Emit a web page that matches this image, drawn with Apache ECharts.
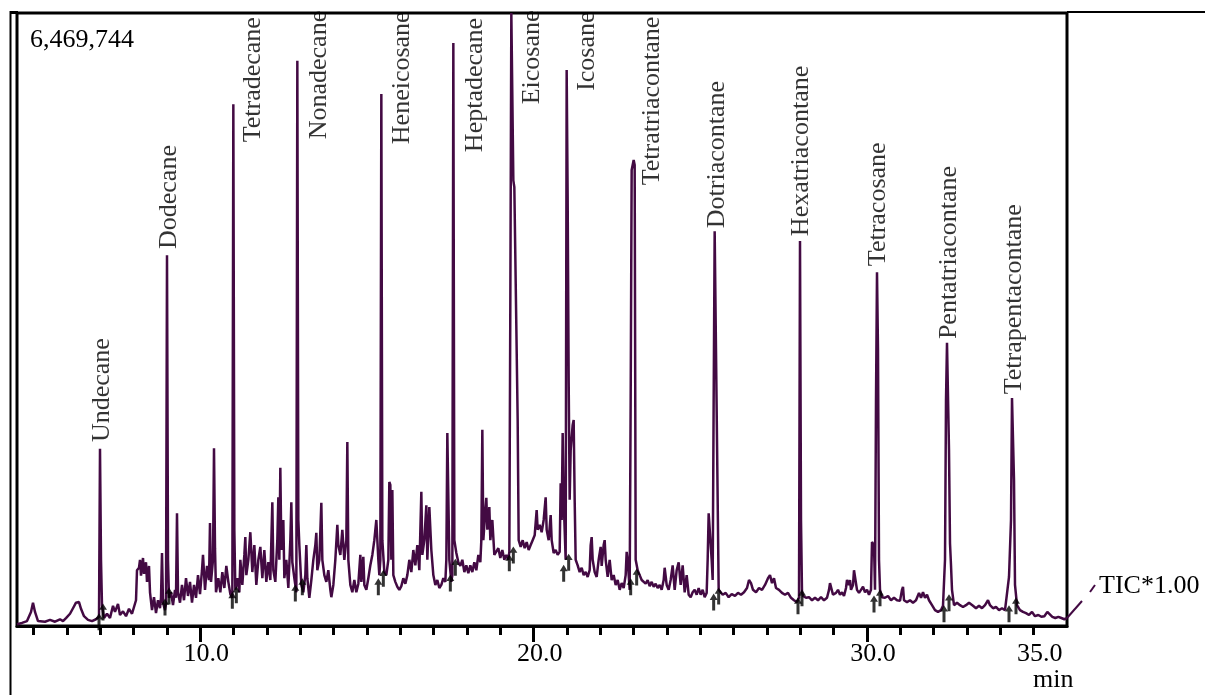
<!DOCTYPE html>
<html>
<head>
<meta charset="utf-8">
<title>TIC chromatogram</title>
<script src="https://cdn.jsdelivr.net/npm/echarts@6/dist/echarts.min.js"></script>
<style>
	html, body { margin: 0; padding: 0; background: #fff; }
	#chart { width: 1205px; height: 695px; }
</style>
</head>
<body>
<div id="chart"></div>
<script>
// Retention time (min), intensity (% of full scale, 6,469,744 counts)
let ticTrace = [
	[4.50,0.3],[4.65,0.5],[4.80,0.8],[4.92,2.3],[4.98,3.8],[5.04,2.3],[5.13,0.8],[5.34,0.7],[5.49,1.0],[5.64,0.7],
	[5.79,1.1],[5.88,0.8],[5.97,1.3],[6.09,2.0],[6.18,2.9],[6.27,3.8],[6.36,3.9],[6.42,2.8],[6.51,1.6],[6.63,1.0],
	[6.75,0.8],[6.87,1.1],[6.96,1.5],[6.99,28.9],[7.02,10.8],[7.05,3.3],[7.11,1.3],
	[7.20,2.0],[7.29,1.3],[7.38,3.3],[7.44,2.3],[7.53,3.6],[7.59,1.8],[7.68,2.4],[7.77,1.6],[7.86,2.8],[7.95,2.0],
	[8.01,3.1],[8.07,4.2],[8.10,9.1],[8.16,9.5],[8.19,10.8],[8.22,8.2],[8.28,11.1],[8.31,8.5],[8.37,10.4],[8.40,7.2],
	[8.46,9.8],[8.49,5.5],[8.55,2.6],[8.61,4.7],[8.67,2.1],[8.73,4.2],[8.79,2.9],[8.82,4.6],[8.85,11.9],[8.88,3.8],
	[8.94,2.6],[8.97,3.6],[9.00,60.5],[9.03,10.8],[9.06,4.6],
	[9.12,5.5],[9.18,3.4],[9.24,5.9],[9.27,4.6],[9.30,18.4],[9.33,5.5],[9.39,3.8],[9.45,6.7],[9.51,4.2],[9.57,7.8],
	[9.63,4.9],[9.69,7.2],[9.75,3.8],[9.81,6.7],[9.87,4.6],[9.93,8.3],[9.99,5.2],[10.05,9.1],[10.08,11.6],[10.14,5.9],
	[10.20,9.8],[10.26,7.5],[10.29,16.8],[10.32,7.2],[10.38,10.8],[10.41,29.0],[10.44,12.7],[10.47,5.5],[10.54,7.8],
	[10.60,5.5],[10.66,8.8],[10.72,6.2],[10.78,9.8],[10.84,7.2],[10.90,5.2],[10.96,4.6],[10.99,85.1],[11.02,15.7],[11.05,5.9],
	[11.11,7.8],[11.17,5.5],[11.20,10.8],[11.26,6.7],[11.32,11.6],[11.35,14.5],[11.38,8.3],[11.44,10.8],[11.50,15.3],
	[11.56,8.8],[11.62,13.2],[11.68,6.7],[11.74,10.8],[11.80,12.9],[11.86,7.8],[11.92,12.4],[11.98,7.2],[12.04,10.4],
	[12.10,7.5],[12.16,20.2],[12.19,9.1],[12.25,7.2],[12.31,14.0],[12.34,21.0],[12.37,10.8],[12.40,25.8],[12.43,12.4],
	[12.49,17.3],[12.52,7.8],[12.58,10.8],[12.64,6.2],[12.70,14.0],[12.73,20.2],[12.76,10.4],[12.82,7.8],[12.88,5.5],
	[12.91,92.2],[12.94,17.3],[12.97,13.2],[13.03,6.7],[13.09,5.5],
	[13.15,8.3],[13.18,13.2],[13.21,7.8],[13.27,4.6],[13.33,7.5],[13.39,10.8],[13.45,13.2],[13.48,15.2],[13.51,9.1],
	[13.57,10.8],[13.63,20.1],[13.66,10.8],[13.72,8.3],[13.78,7.2],[13.84,9.1],[13.90,5.9],[13.93,4.7],[13.99,6.7],
	[14.05,10.8],[14.11,16.5],[14.14,13.2],[14.20,11.6],[14.26,15.7],[14.32,10.8],[14.38,14.0],[14.41,30.0],[14.44,10.8],
	[14.50,6.7],[14.56,5.5],[14.62,7.5],[14.68,5.5],[14.74,6.9],[14.80,11.6],[14.83,7.2],[14.89,11.3],[14.92,6.7],
	[14.98,5.9],[15.04,7.8],[15.10,9.9],[15.16,11.6],[15.22,14.0],[15.28,17.3],[15.34,10.8],[15.37,8.3],[15.40,10.8],
	[15.43,86.8],[15.46,14.0],[15.52,8.8],
	[15.58,8.3],[15.64,10.8],[15.67,23.5],[15.70,23.0],[15.73,10.8],[15.76,22.2],[15.79,8.3],[15.85,7.2],[15.91,6.4],
	[15.97,5.9],[16.03,6.5],[16.09,7.8],[16.15,6.9],[16.21,8.3],[16.27,10.8],[16.33,8.8],[16.39,12.4],[16.45,9.9],
	[16.51,13.2],[16.57,9.1],[16.63,21.9],[16.66,11.6],[16.72,14.0],[16.78,19.7],[16.81,10.8],[16.87,19.4],[16.93,12.4],
	[16.99,8.3],[17.05,6.7],[17.11,7.5],[17.17,6.2],[17.23,6.7],[17.29,7.8],[17.35,7.2],[17.38,10.8],[17.41,31.5],
	[17.47,10.8],[17.53,7.2],[17.56,8.3],[17.59,95.1],[17.62,14.0],[17.68,11.9],
	[17.74,10.4],[17.80,9.8],[17.86,10.8],[17.92,8.8],[17.98,9.9],[18.04,8.6],[18.10,9.9],[18.16,8.8],[18.22,10.4],
	[18.28,9.1],[18.34,11.6],[18.40,10.4],[18.43,14.0],[18.46,32.0],[18.49,14.0],[18.55,18.9],[18.58,20.9],[18.61,15.7],
	[18.67,19.4],[18.70,14.0],[18.76,17.3],[18.82,11.6],[18.88,11.3],[18.94,12.7],[19.00,11.1],[19.06,12.4],[19.12,10.8],
	[19.18,11.6],[19.24,10.8],[19.27,12.1],[19.30,53.2],[19.33,100],[19.36,100],[19.39,72.7],[19.42,71.6],[19.48,71.6],
	[19.52,33.6],[19.55,14.0],
	[19.61,12.9],[19.67,14.0],[19.73,12.7],[19.79,13.7],[19.85,12.4],[19.91,13.2],[19.97,14.0],[20.03,14.8],[20.09,18.9],
	[20.12,15.7],[20.18,16.5],[20.24,15.3],[20.30,17.3],[20.36,21.0],[20.39,15.7],[20.45,14.0],[20.51,18.1],[20.54,14.0],
	[20.60,11.9],[20.66,12.4],[20.72,11.6],[20.78,12.1],[20.81,23.3],[20.84,17.3],[20.87,31.5],[20.90,20.6],[20.96,10.8],
	[20.99,90.7],[21.02,69.5],[21.05,40.1],[21.08,20.6],[21.11,28.7],[21.17,32.8],[21.20,33.6],[21.23,20.6],[21.26,10.8],
	[21.32,9.9],[21.38,8.8],[21.44,9.5],[21.50,8.3],[21.56,8.8],[21.62,8.0],[21.68,9.1],[21.71,13.2],[21.74,14.5],
	[21.77,10.8],[21.83,8.8],[21.89,8.0],[21.95,10.8],[22.01,12.9],[22.04,9.8],[22.10,13.2],[22.13,14.0],[22.16,10.8],
	[22.22,8.0],[22.28,10.8],[22.34,7.5],[22.40,8.3],[22.46,6.7],[22.52,7.5],[22.58,5.9],[22.64,7.0],[22.70,6.2],
	[22.76,8.3],[22.79,12.1],[22.82,10.8],[22.88,5.9],[22.91,36.9],[22.94,74.4],[23.00,76.0],[23.03,75.2],[23.06,10.8],
	[23.12,9.1],[23.18,8.3],
	[23.24,7.5],[23.30,7.8],[23.36,6.9],[23.42,7.5],[23.48,6.5],[23.54,7.2],[23.60,6.4],[23.66,6.9],[23.72,6.2],
	[23.78,6.7],[23.84,5.9],[23.90,7.5],[23.93,9.5],[23.99,6.7],[24.05,5.9],[24.11,7.5],[24.17,9.9],[24.23,5.9],
	[24.29,9.1],[24.35,10.4],[24.41,6.7],[24.47,9.9],[24.53,5.5],[24.59,8.3],[24.65,5.1],[24.71,4.7],[24.77,5.5],
	[24.83,5.9],[24.89,5.1],[24.95,6.2],[25.01,5.1],[25.07,5.9],[25.13,4.7],[25.19,5.4],[25.22,10.8],[25.25,18.4],
	[25.31,18.1],[25.34,10.8],[25.37,7.5],[25.40,36.9],[25.43,64.4],[25.49,64.4],[25.52,20.6],[25.55,5.9],
	[25.61,5.5],[25.67,5.1],[25.76,5.4],[25.85,4.7],[25.94,5.2],[26.04,4.9],[26.13,5.4],[26.22,5.1],[26.31,5.5],
	[26.40,6.2],[26.46,7.5],[26.52,7.0],[26.58,5.9],[26.67,5.5],[26.76,6.2],[26.85,5.9],[26.94,6.7],[27.03,7.8],
	[27.09,8.3],[27.15,7.0],[27.21,7.8],[27.27,6.2],[27.36,5.9],[27.45,5.4],[27.54,5.1],[27.63,5.4],[27.72,4.6],
	[27.81,4.2],[27.90,3.9],[27.96,4.6],[27.99,62.8],[28.02,17.3],[28.05,5.5],
	[28.08,4.9],[28.17,4.6],[28.26,4.7],[28.35,4.2],[28.44,4.6],[28.53,4.2],[28.62,4.7],[28.71,4.2],[28.80,4.6],
	[28.86,5.9],[28.89,7.0],[28.95,6.7],[28.98,5.1],[29.07,5.4],[29.13,5.9],[29.19,5.1],[29.25,5.5],[29.31,4.9],
	[29.37,6.2],[29.40,7.5],[29.46,6.7],[29.49,7.5],[29.52,5.9],[29.58,6.7],[29.61,9.1],[29.67,8.8],[29.70,5.9],
	[29.76,5.4],[29.82,5.9],[29.88,6.4],[29.94,5.5],[30.00,5.9],[30.06,5.1],[30.12,5.9],[30.15,13.7],[30.21,13.2],
	[30.24,5.9],[30.27,36.9],[30.30,57.7],[30.33,45.0],[30.36,10.8],[30.39,5.9],
	[30.45,4.7],[30.54,4.6],[30.63,4.9],[30.72,4.2],[30.81,4.6],[30.90,4.2],[30.99,4.1],[31.05,5.9],[31.08,6.4],
	[31.11,4.2],[31.20,3.9],[31.29,4.2],[31.38,3.8],[31.47,4.2],[31.56,5.4],[31.62,4.6],[31.68,5.5],[31.74,4.6],
	[31.80,5.1],[31.86,4.2],[31.95,3.4],[32.04,2.6],[32.13,2.3],[32.22,2.6],[32.28,3.3],[32.34,10.8],[32.37,36.9],
	[32.40,46.2],[32.43,46.2],[32.46,28.7],[32.49,13.5],[32.52,9.9],[32.55,5.9],
	[32.61,3.4],[32.70,3.8],[32.79,3.4],[32.88,3.1],[32.97,3.4],[33.06,3.8],[33.12,3.9],[33.18,3.3],[33.27,2.9],
	[33.36,3.3],[33.45,2.9],[33.54,3.4],[33.63,4.2],[33.69,3.4],[33.78,2.9],[33.87,3.1],[33.96,2.6],[34.05,2.9],
	[34.14,2.6],[34.20,2.9],[34.26,8.0],[34.29,8.0],[34.32,17.3],[34.35,37.2],[34.38,37.2],[34.41,23.8],[34.44,6.7],
	[34.50,3.4],[34.59,2.6],[34.68,2.3],[34.77,2.1],[34.86,1.8],[34.95,2.3],[35.04,1.6],[35.14,1.8],[35.23,1.5],
	[35.32,1.6],[35.41,2.3],[35.47,2.0],[35.56,1.5],[35.65,1.3],[35.74,1.5],[35.83,1.3],[35.92,1.1],[36.00,1.3]
];

// Peak names and where their labels start (time, intensity %)
let peakNames = ['Undecane', 'Dodecane', 'Tetradecane', 'Nonadecane', 'Heneicosane', 'Heptadecane', 'Eicosane',
	'Icosane', 'Tetratriacontane', 'Dotriacontane', 'Hexatriacontane', 'Tetracosane', 'Pentatriacontane', 'Tetrapentacontane'];
let labelTimes = [7.05, 9.06, 11.59, 13.57, 16.06, 18.26, 19.97, 21.62, 23.57, 25.52, 28.02, 30.33, 32.46, 34.41];
let labelLevels = [30.0, 61.5, 78.9, 79.4, 78.6, 77.3, 85.1, 87.3, 71.9, 64.9, 63.6, 58.7, 46.8, 37.8];

// Integration start / end marks
let markTimes = [6.96, 7.08, 8.94, 9.06, 10.96, 11.08, 12.85, 13.06, 15.34, 15.49, 17.50, 17.65, 19.27, 19.39,
	20.90, 21.05, 22.91, 23.09, 25.40, 25.55, 27.93, 28.05, 30.21, 30.39, 32.31, 32.46, 34.26, 34.47];
let markLevels = [0.7, 2.3, 3.1, 4.9, 4.2, 5.1, 5.4, 6.4, 6.4, 7.8, 7.0, 9.6, 10.3, 11.6,
	8.6, 10.4, 6.4, 8.0, 3.9, 4.9, 3.3, 4.6, 3.6, 4.6, 2.0, 3.8, 2.0, 3.3];

let minorTicks = [5, 6, 7, 8, 9, 10, 11, 12, 13, 14, 15, 16, 17, 18, 19, 20, 21, 22, 23, 24, 25, 26, 27, 28, 29, 30,
	31, 32, 33, 34, 35];
let majorTicks = [10, 20, 30];
let tickLabels = [10, 20, 30, 35];

let fullScale = '6,469,744';
let traceColor = '#430a43';
let serif = '"Liberation Serif", "Times New Roman", serif';

let chart = echarts.init(document.getElementById('chart'));

let labelData = [];
for (let i = 0; i < peakNames.length; i++) {
	labelData.push({ name: peakNames[i], value: [labelTimes[i], labelLevels[i]] });
}
let markData = [];
for (let i = 0; i < markTimes.length; i++) {
	markData.push([markTimes[i], markLevels[i]]);
}

let option = {
	animation: false,
	grid: {
		left: 17, right: 138, top: 13, bottom: 69,
		show: true, borderColor: '#000', borderWidth: 3
	},
	xAxis: [
		{
			type: 'value', min: 4.5, max: 36,
			splitLine: { show: false },
			axisLine: { lineStyle: { color: '#000', width: 3 } },
			axisTick: { customValues: minorTicks, length: 9, lineStyle: { color: '#000', width: 3 } },
			axisLabel: {
				customValues: tickLabels, margin: 15,
				formatter: function (v) { return v.toFixed(1); },
				color: '#000', fontFamily: serif, fontSize: 26, padding: [0, 0, 0, 12]
			}
		},
		{
			type: 'value', min: 4.5, max: 36, position: 'bottom',
			splitLine: { show: false },
			axisLine: { show: false },
			axisTick: { customValues: majorTicks, length: 16, lineStyle: { color: '#000', width: 3 } },
			axisLabel: { show: false }
		}
	],
	yAxis: { type: 'value', min: 0, max: 100, show: false },
	series: [
		{
			type: 'line', data: ticTrace, xAxisIndex: 0,
			symbol: 'none', sampling: null,
			lineStyle: { color: traceColor, width: 2.5 }
		},
		{
			type: 'scatter', data: markData, xAxisIndex: 0,
			symbol: 'path://M4,0 L8,6 L5.5,6 L5.5,16 L2.5,16 L2.5,6 L0,6 Z',
			symbolSize: [8, 17],
			itemStyle: { color: '#000' },
			z: 3
		},
		{
			type: 'scatter', data: labelData, xAxisIndex: 0,
			symbolSize: 0,
			label: {
				show: true, formatter: '{b}', position: [0, 0],
				rotate: 90, align: 'left', verticalAlign: 'middle',
				color: '#000', fontFamily: serif, fontSize: 26
			},
			z: 4
		}
	],
	graphic: [
		{ type: 'line', shape: { x1: 10.5, y1: 11, x2: 10.5, y2: 695 }, style: { stroke: '#000', lineWidth: 2 } },
		{ type: 'line', shape: { x1: 10, y1: 12.5, x2: 18, y2: 12.5 }, style: { stroke: '#000', lineWidth: 3 } },
		{ type: 'line', shape: { x1: 1067, y1: 12, x2: 1205, y2: 12 }, style: { stroke: '#000', lineWidth: 2 } },
		{ type: 'text', left: 30, top: 27, style: { text: fullScale, font: '26px ' + serif, fill: '#000' } },
		{ type: 'line', shape: { x1: 1067, y1: 618, x2: 1082, y2: 601 }, style: { stroke: traceColor, lineWidth: 2 } },
		{ type: 'line', shape: { x1: 1090, y1: 592, x2: 1095, y2: 585 }, style: { stroke: traceColor, lineWidth: 2 } },
		{ type: 'text', left: 1099, top: 573, style: { text: 'TIC*1.00', font: '26px ' + serif, fill: '#000' } },
		{ type: 'text', left: 1033, top: 667, style: { text: 'min', font: '26px ' + serif, fill: '#000' } }
	]
};

chart.setOption(option);
</script>
</body>
</html>
